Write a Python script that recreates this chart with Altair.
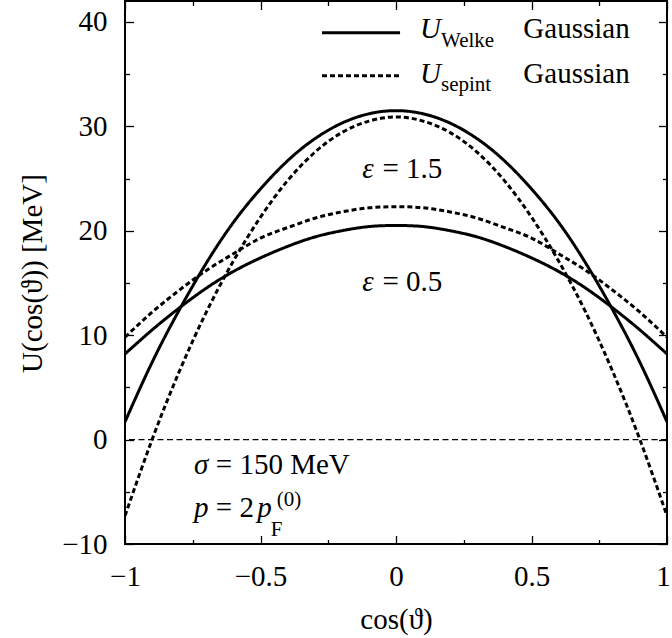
import altair as alt
import pandas as pd

# ---------------- data ----------------
cos_theta = [-1.0, -0.9, -0.8, -0.7, -0.6, -0.5, -0.4, -0.3, -0.2, -0.1, 0.0,
             0.1, 0.2, 0.3, 0.4, 0.5, 0.6, 0.7, 0.8, 0.9, 1.0]
welke_eps15 = [1.7, 7.4, 12.4, 16.9, 20.8, 24.0, 26.7, 28.8, 30.3, 31.2, 31.5,
               31.2, 30.3, 28.8, 26.7, 24.0, 20.8, 16.9, 12.4, 7.4, 1.7]
welke_eps05 = [8.2, 10.5, 12.6, 14.5, 16.1, 17.4, 18.5, 19.4, 20.0, 20.4, 20.5,
               20.4, 20.0, 19.4, 18.5, 17.4, 16.1, 14.5, 12.6, 10.5, 8.2]
sepint_eps15 = [-7.3, 0.0, 6.5, 12.2, 17.1, 21.3, 24.8, 27.5, 29.4, 30.5, 30.9,
                30.5, 29.4, 27.5, 24.8, 21.3, 17.1, 12.2, 6.5, 0.0, -7.3]
sepint_eps05 = [9.8, 12.2, 14.3, 16.2, 17.8, 19.3, 20.3, 21.2, 21.8, 22.2, 22.3,
                22.2, 21.8, 21.2, 20.3, 19.3, 17.8, 16.2, 14.3, 12.2, 9.8]

x_major = [-1, -0.5, 0, 0.5, 1]
x_ticks = [-1, -0.75, -0.5, -0.25, 0, 0.25, 0.5, 0.75, 1]
y_major = [-10, 0, 10, 20, 30, 40]
y_ticks = [-10, -5, 0, 5, 10, 15, 20, 25, 30, 35, 40]

XDOM = [-1, 1]
YDOM = [-10, 42]
W, H = 542, 543
FONT = "Liberation Serif, Times New Roman, Times, DejaVu Serif, Noto Serif, FreeSerif, serif"
FS = 29
FS_SUB = 21

rows = []
for name, kind, vals in [("W15", "Welke", welke_eps15), ("W05", "Welke", welke_eps05),
                         ("S15", "sepint", sepint_eps15), ("S05", "sepint", sepint_eps05)]:
    for c, v in zip(cos_theta, vals):
        rows.append({"c": c, "U": v, "series": name, "kind": kind})
df = pd.DataFrame(rows)

xs = alt.Scale(domain=XDOM, nice=False, zero=False)
ys = alt.Scale(domain=YDOM, nice=False, zero=False)

dash_scale = alt.Scale(domain=["Welke", "sepint"], range=[[1, 0], [5, 3]])

# --------------- curves with labelled axes ---------------
curves = alt.Chart(df).mark_line(color="black", strokeWidth=3, interpolate="natural", clip=True).encode(
    x=alt.X("c:Q", scale=xs,
            axis=alt.Axis(orient="bottom", values=x_major, format="~g", ticks=False, tickSize=0,
                          domain=False, grid=False, labelFont=FONT, labelFontSize=FS,
                          labelColor="black", labelBaseline="alphabetic", labelPadding=41,
                          labelOffset={"condition": {"test": "datum.value === 1", "value": -4}, "value": 0},
                          title="cos(ϑ)", titleFont=FONT, titleFontSize=FS, titleFontWeight="normal",
                          titleColor="black", titleX=271, titleY=84, titleBaseline="alphabetic",
                          labelFlush=False)),
    y=alt.Y("U:Q", scale=ys,
            axis=alt.Axis(orient="left", values=y_major, format="d", ticks=False, tickSize=0,
                          domain=False, grid=False, labelFont=FONT, labelFontSize=FS,
                          labelColor="black", labelPadding=18, labelFlush=False,
                          title="U(cos(ϑ)) [MeV]", titleFont=FONT, titleFontSize=FS,
                          titleFontWeight="normal", titleColor="black", titleX=-93, titleY=272,
                          titleAngle=270, titleBaseline="middle")),
    detail="series:N",
    strokeDash=alt.StrokeDash("kind:N", scale=dash_scale, legend=None),
)

# --------------- inward ticks (two invisible layers) ---------------
xtick_size = {"condition": {"test": "datum.value % 0.5 === 0", "value": 8.5}, "value": 4.5}
ytick_size = {"condition": {"test": "datum.value % 10 === 0", "value": 8.5}, "value": 4.5}


def tick_layer(xorient, yorient):
    return alt.Chart(df).mark_point(opacity=0).encode(
        x=alt.X("c:Q", scale=xs,
                axis=alt.Axis(orient=xorient, offset=-H, values=x_ticks, labels=False,
                              domain=False, grid=False, tickColor="black", tickWidth=1.3,
                              tickSize=xtick_size, title=None)),
        y=alt.Y("U:Q", scale=ys,
                axis=alt.Axis(orient=yorient, offset=-W, values=y_ticks, labels=False,
                              domain=False, grid=False, tickColor="black", tickWidth=1.3,
                              tickSize=ytick_size, title=None)),
    )


ticks_a = tick_layer("top", "right")     # drawn at bottom / left edges
ticks_b = tick_layer("bottom", "left")   # drawn at top / right edges

# --------------- zero line ---------------
zero_line = alt.Chart(pd.DataFrame({"y0": [0]})).mark_rule(
    color="black", strokeWidth=1.3, strokeDash=[6, 3.5]
).encode(y=alt.Y("y0:Q", scale=ys, axis=None))

# --------------- legend lines ---------------
leg_lines = pd.DataFrame({
    "x0": [-0.273, -0.273], "x1": [0.015, 0.015], "y": [38.95, 34.83],
    "kind": ["Welke", "sepint"],
})
legend_rules = alt.Chart(leg_lines).mark_rule(color="black", strokeWidth=3).encode(
    x=alt.X("x0:Q", scale=xs, axis=None), x2="x1:Q",
    y=alt.Y("y:Q", scale=ys, axis=None),
    strokeDash=alt.StrokeDash("kind:N", scale=dash_scale, legend=None),
)

# --------------- annotation texts ---------------
ann = pd.DataFrame([
    # text, x, y, style, size
    ("U", 0.089, 38.47, "italic", FS),
    ("Welke", 0.166, 37.61, "normal", FS_SUB),
    ("Gaussian", 0.470, 38.47, "normal", FS),
    ("U", 0.089, 34.16, "italic", FS),
    ("sepint", 0.166, 33.40, "normal", FS_SUB),
    ("Gaussian", 0.470, 34.16, "normal", FS),
    ("ε", -0.125, 25.07, "italic", FS),
    ("= 1.5", -0.050, 25.07, "normal", FS),
    ("ε", -0.125, 14.26, "italic", FS),
    ("= 0.5", -0.050, 14.26, "normal", FS),
    ("σ", -0.745, -3.25, "italic", FS),
    ("= 150 MeV", -0.665, -3.25, "normal", FS),
    ("p", -0.745, -7.46, "italic", FS),
    ("= 2", -0.665, -7.46, "normal", FS),
    ("p", -0.512, -7.46, "italic", FS),
    ("F", -0.462, -9.19, "normal", FS_SUB),
    ("(0)", -0.440, -6.32, "normal", FS_SUB),
], columns=["text", "x", "y", "style", "size"])


def text_layer(style):
    return alt.Chart(ann[ann["style"] == style]).mark_text(
        font=FONT, fontStyle=style, align="left", baseline="alphabetic", color="black"
    ).encode(
        x=alt.X("x:Q", scale=xs, axis=None),
        y=alt.Y("y:Q", scale=ys, axis=None),
        text="text:N",
        size=alt.Size("size:Q", scale=None, legend=None),
    )


chart = alt.layer(
    ticks_a, ticks_b, zero_line, curves, legend_rules,
    text_layer("normal"), text_layer("italic"),
).resolve_axis(
    x="independent", y="independent"
).properties(
    width=W, height=H,
    autosize=alt.AutoSizeParams(type="none"),
    padding={"left": 125, "top": 1, "right": 5, "bottom": 94},
    background="white",
).configure_view(
    stroke="black", strokeWidth=2
)

chart.save("out.html", embed_options={"renderer": "svg", "actions": False})
